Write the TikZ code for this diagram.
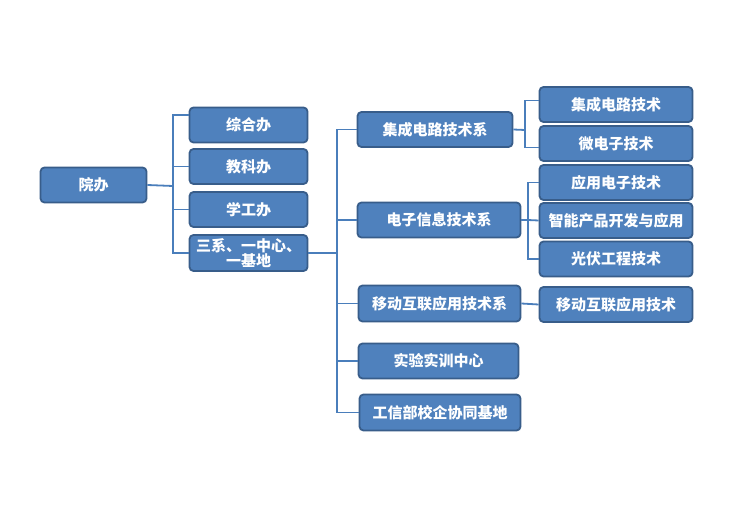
\documentclass[tikz,border=0pt]{standalone}
\usepackage{fontspec}
\setmainfont{Noto Sans CJK SC}
\definecolor{boxfill}{HTML}{4F81BD}
\definecolor{boxline}{HTML}{385D8A}
\definecolor{connc}{HTML}{4A7EBB}
\begin{document}
\begin{tikzpicture}[x=1pt,y=-1pt,
  box/.style={draw=boxline, line width=1.8pt, fill=boxfill, rounded corners=4pt,
    text=white, font=\fontsize{15pt}{15pt}\selectfont\bfseries, align=center,
    inner sep=0pt, minimum height=35pt},
  conn/.style={draw=connc, line width=1.8pt}]
\useasboundingbox[fill=white] (0,0) rectangle (732,532);
% level 0
\node[box, minimum width=106pt] (yb) at (93.5,185) {院办};
% level 1
\node[box, minimum width=118pt] (zh) at (248.5,125) {综合办};
\node[box, minimum width=118pt] (jk) at (248.5,166.5) {教科办};
\node[box, minimum width=118pt] (xg) at (248.5,209.5) {学工办};
\node[box, minimum width=118pt, minimum height=36pt] (sx) at (248.5,253) {三系、一中心、\\一基地};
% level 2
\node[box, minimum width=155pt] (jc) at (435,129.5) {集成电路技术系};
\node[box, minimum width=163pt] (dz) at (439,220) {电子信息技术系};
\node[box, minimum width=162pt, minimum height=36pt] (yd) at (439.5,303.5) {移动互联应用技术系};
\node[box, minimum width=160pt] (sy) at (438.5,361) {实验实训中心};
\node[box, minimum width=161pt, minimum height=36pt] (gx) at (440,412.5) {工信部校企协同基地};
% level 3
\node[box, minimum width=153pt] (t1) at (616,104.5) {集成电路技术};
\node[box, minimum width=153pt] (t2) at (616,143.5) {微电子技术};
\node[box, minimum width=153pt] (a1) at (616,182.5) {应用电子技术};
\node[box, minimum width=153pt] (a2) at (616,220.5) {智能产品开发与应用};
\node[box, minimum width=153pt] (a3) at (616,259) {光伏工程技术};
\node[box, minimum width=153pt] (m1) at (616,304.5) {移动互联应用技术};
% junction points
\coordinate (L) at (173,186);
\coordinate (M) at (337,253);
\coordinate (B1) at (525,130);
\coordinate (B2) at (528,220);
% connectors level 0 -> 1
\draw[conn] (yb.east) -- (L);
\draw[conn] ([yshift=10pt]zh.west) -| (L |- sx.west) -- (sx.west);
\draw[conn] (jk.west) -- (jk.west -| L);
\draw[conn] (xg.west) -- (xg.west -| L);
% connectors level 1 -> 2
\draw[conn] (sx.east) -- (M);
\draw[conn] (jc.west) -| (M |- gx.west) -- (gx.west);
\draw[conn] (dz.west) -- (dz.west -| M);
\draw[conn] (yd.west) -- (yd.west -| M);
\draw[conn] (sy.west) -- (sy.west -| M);
% connectors level 2 -> 3
\draw[conn] (jc.east) -- (B1);
\draw[conn] ([yshift=4pt]t1.west) -| (B1) |- ([yshift=-4pt]t2.west);
\draw[conn] (dz.east) -- (B2);
\draw[conn] (a1.west) -| (B2) |- (a3.west);
\draw[conn] (B2) -- (a2.west);
\draw[conn] (yd.east) -- (m1.west);
\end{tikzpicture}
\end{document}
